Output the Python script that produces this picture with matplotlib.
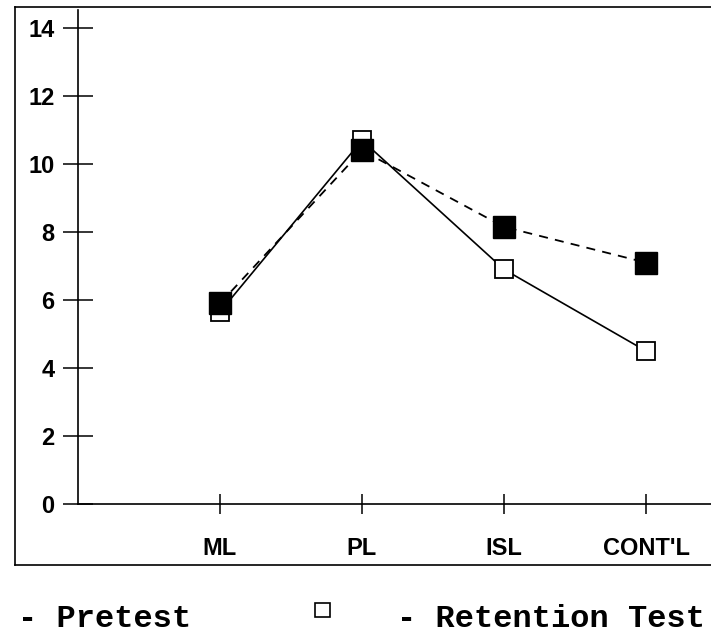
import matplotlib
matplotlib.use("Agg")
import matplotlib.pyplot as plt
from matplotlib.lines import Line2D
from matplotlib.patches import Rectangle

# data
groups = ["ML", "PL", "ISL", "CONT'L"]
open_series = [5.65, 10.7, 6.9, 4.5]      # open squares, solid line
filled_series = [5.9, 10.4, 8.15, 7.1]    # filled squares, dashed line
yticks = [0, 2, 4, 6, 8, 10, 12, 14]

W, H = 711, 634
fig = plt.figure(figsize=(W / 100, H / 100), dpi=100)

# axes placed in pixel terms: y-axis at x=78, zero line at y=504
x0, y0, ytop = 78, 504, 10
ax = fig.add_axes([x0 / W, (H - y0) / H, (W - x0) / W, (y0 - ytop) / H])
px_per_unit_x = 142.0
px_per_unit_y = (504 - 28) / 14.0
ax.set_xlim(0, (W - x0) / px_per_unit_x)
ax.set_ylim(0, (y0 - ytop) / px_per_unit_y)

xs = list(range(1, len(groups) + 1))
ax.plot(xs, open_series, color="black", linewidth=1.2, marker="s",
        markersize=13.5, markerfacecolor="white", markeredgecolor="black",
        markeredgewidth=1.3, zorder=3)
ax.plot(xs, filled_series, color="black", linewidth=1.3, linestyle=(0, (5, 4)),
        marker="s", markersize=15.5, markerfacecolor="black",
        markeredgecolor="black", zorder=4)

for s in ["top", "right"]:
    ax.spines[s].set_visible(False)
for s in ["left", "bottom"]:
    ax.spines[s].set_linewidth(1.2)

ax.set_yticks(yticks)
ax.set_yticklabels([str(v) for v in yticks])
ax.set_xticks(xs)
ax.set_xticklabels(groups)
ax.tick_params(axis="y", direction="inout", length=22, width=1.1, pad=6)
ax.tick_params(axis="x", direction="inout", length=15, width=1.1, pad=16)
for lab in ax.get_xticklabels() + ax.get_yticklabels():
    lab.set_fontfamily(["Liberation Sans", "DejaVu Sans"])
    lab.set_fontweight("bold")
    lab.set_fontsize(17)

# outer frame (open on the right, as in the scan)
fig.add_artist(Line2D([15 / W, 15 / W], [1 - 7 / H, 1 - 565 / H],
                      transform=fig.transFigure, color="black", linewidth=1.2))
fig.add_artist(Line2D([15 / W, 1.0], [1 - 7 / H, 1 - 7 / H],
                      transform=fig.transFigure, color="black", linewidth=1.2))
fig.add_artist(Line2D([15 / W, 1.0], [1 - 565 / H, 1 - 565 / H],
                      transform=fig.transFigure, color="black", linewidth=1.2))

# legend line under the frame
mono = ["Liberation Mono", "DejaVu Sans Mono"]
fig.text(18 / W, 1 - 627 / H, "- Pretest", family=mono, fontweight="bold",
         fontsize=23, ha="left", va="baseline")
fig.add_artist(Rectangle((315 / W, 1 - 617 / H), 15 / W, 14 / H,
                         transform=fig.transFigure, facecolor="white",
                         edgecolor="black", linewidth=1.2))
fig.text(397 / W, 1 - 627 / H, "- Retention Test", family=mono,
         fontweight="bold", fontsize=23, ha="left", va="baseline")

fig.savefig("out.png", dpi=100)
